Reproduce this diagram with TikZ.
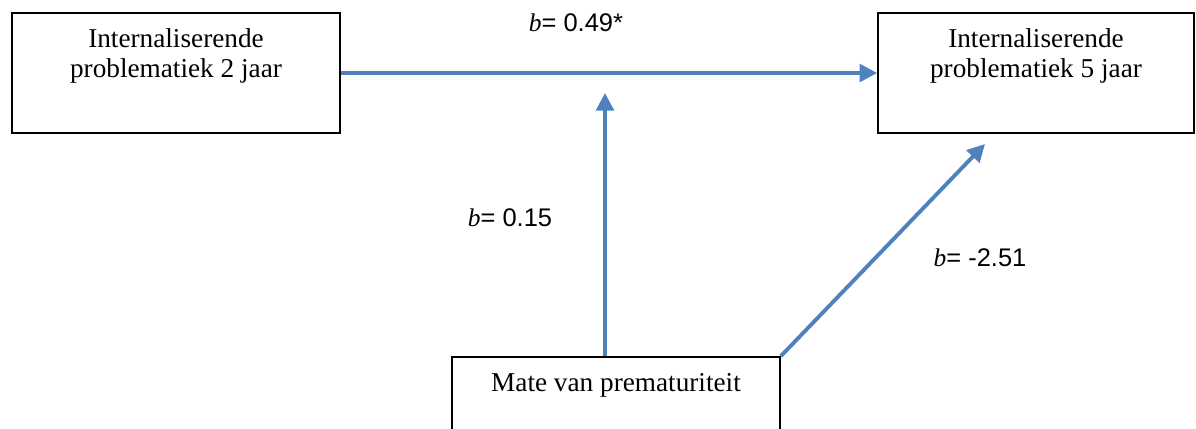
\documentclass[tikz,border=0pt]{standalone}
\usepackage{fontspec}
\setmainfont{Liberation Serif}
\newfontfamily\coeffont{Liberation Sans}
\usepackage{tikz}
\definecolor{pathblue}{RGB}{79, 129, 189}
\usetikzlibrary{arrows.meta, positioning, calc}

\begin{document}
\begin{tikzpicture}[
    factor/.style={draw=black, line width=0.9pt, minimum width=#1, minimum height=2.4cm, inner sep=0pt},
    boxtext/.style={anchor=north, inner sep=0pt, align=center, font=\fontsize{15.5}{17}\selectfont},
    coef/.style={font=\fontsize{14.5}{16}\selectfont, inner sep=0pt},
    path/.style={draw=pathblue, line width=2.2pt, -{Triangle[length=10pt, width=10pt]}}
]
    \useasboundingbox (0,0) rectangle (23.92,8.56);
    \clip (0,0) rectangle (23.92,8.56);

    \node[factor=6.56cm] (ip2) at (3.52,7.10) {};
    \node[boxtext] (ip2t) at ($(ip2.north)+(0,-0.33)$) {Internaliserende\\problematiek 2 jaar};

    \node[factor=6.32cm] (ip5) at (20.72,7.10) {};
    \node[boxtext] (ip5t) at ($(ip5.north)+(0,-0.33)$) {Internaliserende\\problematiek 5 jaar};

    \node[factor=6.56cm] (prem) at (12.32,0.22) {};
    \node[boxtext] (premt) at ($(prem.north)+(0,-0.33)$) {Mate van prematuriteit};

    \coordinate (modtip) at (12.10,6.70);
    \coordinate (directtip) at (19.70,5.68);

    \draw[path] (ip2.east) -- (ip5.west);
    \draw[path] (prem.north -| modtip) -- (modtip);
    \draw[path] (prem.north east) -- (directtip);

    \node[coef] (b1) at (11.52,8.10) {\textit{b}\coeffont= 0.49*};
    \node[coef] (b2) at (10.20,4.20) {\textit{b}\coeffont= 0.15};
    \node[coef] (b3) at (19.60,3.40) {\textit{b}\coeffont= -2.51};
\end{tikzpicture}
\end{document}
